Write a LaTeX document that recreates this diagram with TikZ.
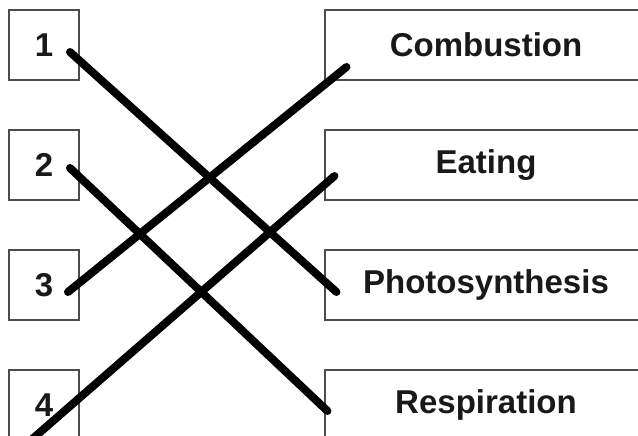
\documentclass[tikz,border=0pt]{standalone}
\usepackage{fontspec}
\setmainfont{Liberation Sans}
\usetikzlibrary{positioning}

\begin{document}
\begin{tikzpicture}[x=1pt, y=-1pt, node distance=120pt and 442pt, on grid,
  box/.style={draw=black!70, line width=1.1pt, inner sep=0pt,
    font=\fontsize{33}{33}\selectfont\bfseries, text=black!90},
  num/.style={box, minimum width=70pt, minimum height=70pt},
  word/.style={box, minimum width=322pt, minimum height=70pt},
  match/.style={line width=8pt, line cap=round}]
  \clip (0,0) rectangle (638,436);
  \node[num] (n1) at (44,45) {1};
  \node[num] (n2) [below=of n1] {2};
  \node[num] (n3) [below=of n2] {3};
  \node[num] (n4) [below=of n3] {4};
  \node[word] (w1) [right=of n1] {Combustion};
  \node[word] (w2) [right=of n2] {Eating};
  \node[word] (w3) [right=of n3] {Photosynthesis};
  \node[word] (w4) [right=of n4] {Respiration};
  % line ends
  \coordinate (s1) at ([xshift=26pt, yshift=-7pt]n1.center);
  \coordinate (s2) at ([xshift=26pt, yshift=-3pt]n2.center);
  \coordinate (s3) at ([xshift=24pt, yshift=-7pt]n3.center);
  \coordinate (s4) at ([xshift=-14pt, yshift=-36pt]n4.center);
  \coordinate (e1) at ([xshift=22pt, yshift=-22pt]w1.west);
  \coordinate (e2) at ([xshift=10pt, yshift=-11pt]w2.west);
  \coordinate (e3) at ([xshift=12pt, yshift=-7pt]w3.west);
  \coordinate (e4) at ([xshift=3pt, yshift=-6pt]w4.west);
  \path[match]
  (s1) edge (e3)
  (s2) edge (e4)
  (s3) edge (e1)
  (s4) edge (e2)
  ;
\end{tikzpicture}
\end{document}
